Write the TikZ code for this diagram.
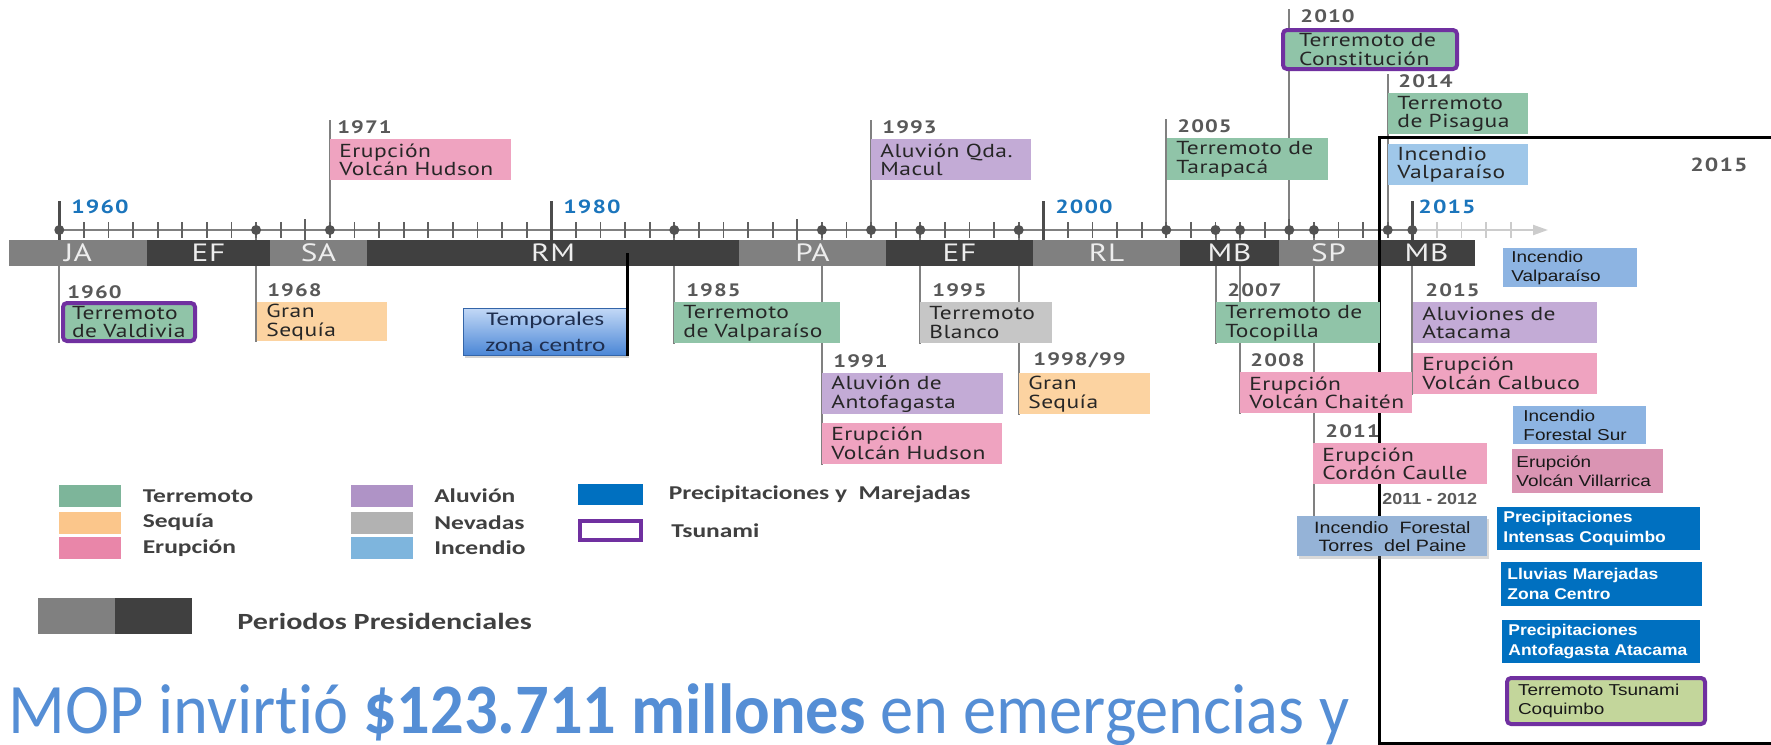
\documentclass[tikz,border=0pt]{standalone}
\usepackage{fontspec}
\usetikzlibrary{positioning,backgrounds,shadows,arrows.meta}

\newfontfamily\evfont{PT Sans}[FakeStretch=1.25,LetterSpace=2.5]
\newfontfamily\yrfont{PT Sans}[FakeStretch=1.25,LetterSpace=6]
\newfontfamily\rcfont{Liberation Sans}[FakeStretch=1.2]
\newfontfamily\rbfont{Liberation Sans}[FakeStretch=1.12]
\newfontfamily\lgfont{Carlito}[FakeStretch=1.3,Ligatures=NoCommon]
\newfontfamily\mopfont{Carlito}[FakeStretch=0.935,Ligatures=NoCommon]

\definecolor{cterr}{HTML}{90C4A8}
\definecolor{cseq}{HTML}{FCD3A1}
\definecolor{cerup}{HTML}{EFA3C0}
\definecolor{caluv}{HTML}{C3ABD6}
\definecolor{cnev}{HTML}{C6C6C6}
\definecolor{cinc}{HTML}{9FC7E9}
\definecolor{cinc2}{HTML}{8DB4E2}
\definecolor{cvill}{HTML}{DA94B3}
\definecolor{cprec}{HTML}{0070C0}
\definecolor{ctsu}{HTML}{7030A0}
\definecolor{ccoq}{HTML}{C3D69B}
\definecolor{ctorres}{HTML}{95B3D7}
\definecolor{ctempt}{HTML}{C2D8F6}
\definecolor{ctempb}{HTML}{4A86D6}
\definecolor{ctempd}{HTML}{3465A8}
\definecolor{ctempx}{HTML}{1F2F50}
\definecolor{plight}{HTML}{808080}
\definecolor{pdark}{HTML}{404040}
\definecolor{yblue}{HTML}{1B75BC}
\definecolor{ygray}{HTML}{595959}
\definecolor{mopblue}{HTML}{558ED5}
\definecolor{lterr}{HTML}{7DB59A}
\definecolor{lseq}{HTML}{FBC68B}
\definecolor{lerup}{HTML}{E986A9}
\definecolor{laluv}{HTML}{AF93C6}
\definecolor{lnev}{HTML}{B2B2B2}
\definecolor{linc}{HTML}{7EB5DD}

\tikzstyle{ev} = [anchor=north west, inner xsep=4.5pt, inner ysep=0pt, minimum height=20.5pt, align=left, text=black!85, execute at begin node={\hyphenpenalty=10000}, font=\evfont\fontsize{9.4}{9.4}\selectfont]
\tikzstyle{tsu} = [draw=ctsu, line width=2pt, rounded corners=2pt]
\tikzstyle{yr} = [inner sep=0pt, text=ygray, font=\yrfont\bfseries\fontsize{9}{9}\selectfont]
\tikzstyle{byr} = [inner sep=0pt, anchor=west, text=yblue, font=\yrfont\bfseries\fontsize{9.5}{9.5}\selectfont]
\tikzstyle{per} = [text=white!93!black, font=\evfont\fontsize{12.5}{12.5}\selectfont]
\tikzstyle{evl} = [draw=black!50, line width=1pt]
\tikzstyle{tk} = [draw=black!62, line width=0.9pt]
\tikzstyle{rc} = [anchor=north west, inner xsep=4pt, inner ysep=0pt, align=left, text=black!90, execute at begin node={\hyphenpenalty=10000}, font=\rcfont\fontsize{7.9}{9.6}\selectfont]
\tikzstyle{rp} = [rc, fill=cprec, text=white, inner xsep=3pt, font=\rbfont\bfseries\fontsize{7.8}{10}\selectfont]
\tikzstyle{sw} = [minimum width=31pt, minimum height=11pt, inner sep=0pt]
\tikzstyle{lg} = [anchor=west, inner sep=0pt, text=black!75, font=\lgfont\bfseries\fontsize{9.8}{9.8}\selectfont]

\begin{document}
\begin{tikzpicture}[x=0.5pt, y=-0.5pt]
\useasboundingbox (0,0) rectangle (1771,744);

\foreach \a/\b/\t/\c [count=\i] in {9/147/JA/plight, 147/270/EF/pdark, 270/367/SA/plight, 367/739/RM/pdark, 739/886/PA/plight, 886/1033/EF/pdark, 1033/1180/RL/plight, 1180/1279/MB/pdark, 1279/1378/SP/plight, 1378/1475/MB/pdark}
{
  \fill[\c] (\a,240) rectangle (\b,266);
  \node[per] (p\i) at ({(\a+\b)/2},253) {\t};
}

\draw[black!50, line width=1pt] (59.3,230) -- (1412,230);
\draw[black!20, line width=1pt, -{Triangle[length=7.5pt,width=5pt]}] (1412,230) -- (1548,230);
\foreach \y in {1961,...,2014}
  \draw[tk] ({59.3+24.6*(\y-1960)},222) -- ++(0,16);
\foreach \y in {1970,1990,2010}
  \draw[tk] ({59.3+24.6*(\y-1960)},219) -- ++(0,21);
\foreach \y in {2016,...,2019}
  \draw[black!20, line width=0.9pt] ({59.3+24.6*(\y-1960)},222) -- ++(0,16);
\foreach \y in {1960,1980,2000,2015}
  \draw[black!70, line width=1.5pt] ({59.3+24.6*(\y-1960)},201) -- ++(0,39);
\foreach \y in {1960,1968,1971,1985,1991,1993,1995,1999,2005,2007,2008,2010,2011,2014,2015}
{
  \coordinate (d\y) at ({59.3+24.6*(\y-1960)},230);
  \fill[black!68] (d\y) circle (2.5pt);
}

\node[byr] (b1960) at (71,207) {1960};
\node[byr] (b1980) at (563,207) {1980};
\node[byr] (b2000) at (1055,207) {2000};
\node[byr] (b2015) at (1418,207) {2015};

\draw[line width=1.5pt] (1771,137) -- (1379,137) -- (1379,743) -- (1771,743);
\node[yr, font=\yrfont\bfseries\fontsize{9.5}{9.5}\selectfont] (f2015) at (1719,165) {2015};

\node[ev, fill=cerup, text width=81.5pt] (e1971) at (330,139) {Erupción\\Volcán~Hudson};
\node[ev, fill=caluv, text width=71pt] (e1993) at (871,139) {Aluvión~Qda.\\Macul};
\node[ev, fill=cterr, text width=71.5pt, minimum height=21pt] (e2005) at (1167,138) {Terremoto~de\\Tarapacá};
\node[ev, tsu, fill=cterr, text width=71pt, inner xsep=8pt, minimum height=19.5pt] (e2010) at (1281,28) {Terremoto~de\\Constitución};
\node[ev, fill=cterr, text width=61pt] (e2014) at (1388,93) {Terremoto\\de~Pisagua};
\node[ev, fill=cinc, text width=61pt, below=4.5pt of e2014.south west, anchor=north west] (inc2014) {Incendio\\Valparaíso};

\node[yr, above right=2.5pt and 3.5pt of e1971.north west] (l1971) {1971};
\node[yr, above right=2.5pt and 5.5pt of e1993.north west] (l1993) {1993};
\node[yr, above right=2.5pt and 5pt of e2005.north west] (l2005) {2005};
\node[yr, above right=2.5pt and 9.5pt of e2010.north west] (l2010) {2010};
\node[yr, above right=2.5pt and 5pt of e2014.north west] (l2014) {2014};

\node[ev, tsu, fill=cterr, text width=57pt, minimum height=19pt] (e1960) at (61,301) {Terremoto\\de~Valdivia};
\node[ev, fill=cseq, text width=56pt, minimum height=19.5pt] (e1968) at (257,302) {Gran\\Sequía};
\node[anchor=north west, draw=ctempd, top color=ctempt, bottom color=ctempb, drop shadow={opacity=0.35, shadow xshift=1pt, shadow yshift=-1.5pt}, minimum width=82pt, minimum height=23.5pt, inner sep=0pt, align=center, text=ctempx, font=\lgfont\fontsize{9.7}{13}\selectfont] (temp) at (463,308) {Temporales\\zona centro};
\draw[line width=1.5pt] (temp.south east) -- (temp.south east |- p4);
\node[ev, fill=cterr, text width=74pt] (e1985) at (674,302) {Terremoto\\de~Valparaíso};
\node[ev, fill=caluv, text width=81.5pt] (e1991) at (822,373) {Aluvión~de\\Antofagasta};
\node[ev, fill=cerup, text width=81pt, below=4pt of e1991.south west, anchor=north west] (e1991b) {Erupción\\Volcán~Hudson};
\node[ev, fill=cnev, text width=57pt] (e1995) at (920,302) {Terremoto\\Blanco};
\node[ev, fill=cseq, text width=56.5pt] (e1999) at (1019,373) {Gran\\Sequía};
\node[ev, fill=cterr, text width=73pt] (e2007) at (1216,302) {Terremoto~de\\Tocopilla};
\node[ev, fill=cerup, text width=77pt] (e2008) at (1240,372) {Erupción\\Volcán~Chaitén};
\node[ev, fill=cerup, text width=78pt] (e2011) at (1313,443) {Erupción\\Cordón~Caulle};
\node[anchor=north west, fill=ctorres, drop shadow={opacity=0.3, shadow xshift=1pt, shadow yshift=-1.5pt}, text width=85pt, minimum height=20pt, inner xsep=5pt, inner ysep=0pt, align=center, text=black!90, font=\rcfont\fontsize{8.2}{9}\selectfont] (torres) at (1297,516) {Incendio\ \ Forestal\\Torres\ \ del Paine};
\node[anchor=west, inner sep=0pt, text=ygray, font=\rbfont\bfseries\fontsize{8}{8}\selectfont] (l2012) at (1382,499) {2011 - 2012};
\node[ev, fill=caluv, text width=83pt] (e2015) at (1413,302) {Aluviones~de\\Atacama};
\node[ev, fill=cerup, text width=83pt, below=4.5pt of e2015.south west, anchor=north west] (e2015b) {Erupción\\Volcán~Calbuco};

\node[yr, above right=1pt and 3pt of e1960.north west] (l1960) {1960};
\node[yr, above right=2.5pt and 5pt of e1968.north west] (l1968) {1968};
\node[yr, above right=2.5pt and 6pt of e1985.north west] (l1985) {1985};
\node[yr, above right=2.5pt and 5.5pt of e1991.north west] (l1991) {1991};
\node[yr, above right=2.5pt and 6pt of e1995.north west] (l1995) {1995};
\node[yr, above right=2.5pt and 7pt of e1999.north west] (l1999) {1998/99};
\node[yr, above right=2.5pt and 5.5pt of e2007.north west] (l2007) {2007};
\node[yr, above right=2.5pt and 5pt of e2008.north west] (l2008) {2008};
\node[yr, above right=2.5pt and 6pt of e2011.north west] (l2011) {2011};
\node[yr, above right=2.5pt and 6pt of e2015.north west] (l2015) {2015};

\node[rc, fill=cinc2, text width=59pt, minimum height=19.5pt] (r1) at (1503,248) {Incendio\\Valparaíso};
\node[rc, fill=cinc2, text width=56.5pt, inner xsep=5pt, minimum height=19pt] (r2) at (1513,406) {Incendio\\Forestal~Sur};
\node[rc, fill=cvill, text width=71.5pt, inner xsep=2pt, minimum height=22pt] (r3) at (1512,449) {Erupción\\Volcán~Villarrica};
\node[rp, text width=95.5pt, minimum height=21.5pt] (r4) at (1497,507) {Precipitaciones\\Intensas~Coquimbo};
\node[rp, text width=94.5pt, minimum height=22pt] (r5) at (1501,562) {Lluvias~Marejadas\\Zona~Centro};
\node[rp, text width=93pt, minimum height=21.5pt] (r6) at (1502,620) {Precipitaciones\\Antofagasta~Atacama};
\node[rc, tsu, fill=ccoq, text width=88pt, inner xsep=5.5pt, minimum height=23pt] (r7) at (1505,676) {Terremoto~Tsunami\\Coquimbo};

\node[sw, fill=lterr] (s1) at (90,496) {};
\node[lg, right=10.5pt of s1] (g1) {Terremoto};
\node[sw, fill=lseq] (s2) at (90,522.5) {};
\node[lg, right=10.5pt of s2] (g2) {Sequía};
\node[sw, fill=lerup] (s3) at (90,548) {};
\node[lg, right=10.5pt of s3] (g3) {Erupción};
\node[sw, fill=laluv] (s4) at (381.5,496) {};
\node[lg, right=10.5pt of s4] (g4) {Aluvión};
\node[sw, fill=lnev] (s5) at (381.5,522.5) {};
\node[lg, right=10.5pt of s5] (g5) {Nevadas};
\node[sw, fill=linc] (s6) at (381.5,548) {};
\node[lg, right=10.5pt of s6] (g6) {Incendio};
\node[sw, fill=cprec, minimum width=32.5pt, minimum height=10.5pt] (s7) at (610.5,494.5) {};
\node[lg, right=12.5pt of s7] (g7) {Precipitaciones y\ \ Marejadas};
\node[sw, draw=ctsu, line width=2pt, minimum width=30.5pt, minimum height=9.5pt] (s8) at (610.5,530.5) {};
\node[lg, right=14pt of s8] (g8) {Tsunami};

\fill[plight] (38,598) rectangle (115,634);
\fill[pdark] (115,598) rectangle (192,634);
\node[lg, font=\lgfont\bfseries\fontsize{11.6}{11.6}\selectfont] (g9) at (237,621) {Periodos Presidenciales};

\node[anchor=base west, inner sep=0pt, text=mopblue, font=\mopfont\fontsize{35.5}{35.5}\selectfont] (mop) at (8,733) {MOP invirtió \textbf{\$123.711 millones} en emergencias y};

\begin{scope}[on background layer]
\foreach \y in {1971,1993,2005,2010,2014}
  \draw[evl] (d\y) -- (d\y |- l\y.north);
\foreach \y/\e in {1960/e1960,1968/e1968,1985/e1985,1991/e1991b,1995/e1995,1999/e1999,2007/e2007,2008/e2008,2015/e2015b}
  \draw[evl] (d\y) -- (d\y |- \e.south);
\draw[evl] (d2011) -- (d2011 |- torres.north);
\end{scope}
\end{tikzpicture}
\end{document}
